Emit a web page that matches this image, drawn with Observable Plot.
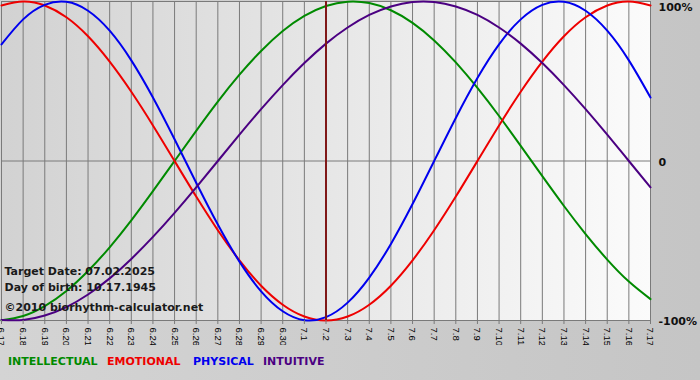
<!DOCTYPE html>
<html><head><meta charset="utf-8">
<script src="https://cdn.jsdelivr.net/npm/d3@7"></script>
<script src="https://cdn.jsdelivr.net/npm/@observablehq/plot@0.6"></script>
<style>
html,body{margin:0;padding:0;}
body{width:700px;height:380px;overflow:hidden;background:linear-gradient(to right,#d4d4d4,#c5c5c5);position:relative;font-family:"DejaVu Sans",Verdana,sans-serif;}
#chart{position:absolute;left:0;top:0;}
#legend{position:absolute;left:0;top:355px;width:700px;height:16px;font-weight:bold;font-size:11px;white-space:nowrap;}
#legend span{position:absolute;top:0;}
</style></head><body>
<div id="chart"></div>
<div id="legend"></div>
<script>
const dayLabels = ["6.17","6.18","6.19","6.20","6.21","6.22","6.23","6.24","6.25","6.26","6.27","6.28","6.29","6.30",
  "7.1","7.2","7.3","7.4","7.5","7.6","7.7","7.8","7.9","7.10","7.11","7.12","7.13","7.14","7.15","7.16","7.17"];
const intellectual = [-0.999,-0.972,-0.910,-0.815,-0.690,-0.541,-0.372,-0.189,0.000,0.189,0.372,0.541,0.690,0.815,0.910,0.972,0.999,0.990,0.945,0.866,0.756,0.618,0.458,0.282,0.095,-0.095,-0.282,-0.458,-0.618,-0.756,-0.866];
const emotional = [0.975,1.000,0.975,0.901,0.782,0.623,0.434,0.223,0.000,-0.223,-0.434,-0.623,-0.782,-0.901,-0.975,-1.000,-0.975,-0.901,-0.782,-0.623,-0.434,-0.223,0.000,0.223,0.434,0.623,0.782,0.901,0.975,1.000,0.975];
const physical = [0.731,0.888,0.979,0.998,0.942,0.817,0.631,0.398,0.136,-0.136,-0.398,-0.631,-0.817,-0.942,-0.998,-0.979,-0.888,-0.731,-0.520,-0.270,0.000,0.270,0.520,0.731,0.888,0.979,0.998,0.942,0.817,0.631,0.398];
const intuitive = [-0.997,-0.997,-0.969,-0.916,-0.837,-0.736,-0.614,-0.476,-0.325,-0.165,0.000,0.165,0.325,0.476,0.614,0.736,0.837,0.916,0.969,0.997,0.997,0.969,0.916,0.837,0.736,0.614,0.476,0.325,0.165,0.000,-0.165];
const seriesNames = ["INTELLECTUAL","EMOTIONAL","PHYSICAL","INTUITIVE"];
const seriesColors = ["#008a00","#ee0000","#0000ee","#4b0082"];
const targetLabel = "7.2";
const yTickValues = [1, 0, -1];
const yTickLabels = ["100%", "0", "-100%"];
const infoLines = ["Target Date: 07.02.2025", "Day of birth: 10.17.1945", "©2010 biorhythm-calculator.net"];

const seriesValues = [intellectual, emotional, physical, intuitive];
const rows = [];
seriesNames.forEach((name, s) => seriesValues[s].forEach((v, i) => rows.push({i, v, series: name})));
const dayIndex = dayLabels.map((_, i) => i);
const targetIndex = dayLabels.indexOf(targetLabel);

const H = 345;
const infoDy = [-49, -33, -13];
const yLabelDy = [6, 1, 1];

const defs = () => {
  const d = d3.create("svg:defs");
  const g = d.append("linearGradient").attr("id", "bg").attr("x1", 0).attr("x2", 1).attr("y1", 0).attr("y2", 0);
  g.append("stop").attr("offset", "0%").attr("stop-color", "#d2d2d2");
  g.append("stop").attr("offset", "100%").attr("stop-color", "#fbfbfb");
  return d.node();
};

const chart = Plot.plot({
  width: 700,
  height: H,
  marginLeft: 1,
  marginRight: 50,
  marginTop: 1,
  marginBottom: H - 320,
  style: {background: "transparent", fontFamily: "'DejaVu Sans', Verdana, sans-serif"},
  x: {domain: [0, dayLabels.length - 1]},
  y: {domain: [-1, 1]},
  color: {domain: seriesNames, range: seriesColors},
  marks: [
    defs,
    Plot.frame({fill: "url(#bg)"}),
    Plot.ruleX(dayIndex, {x: d => d, stroke: "#7a7a7a", strokeWidth: 1, strokeOpacity: 1}),
    Plot.ruleY([0], {stroke: "#7a7a7a", strokeOpacity: 1}),
    Plot.frame({stroke: "#7a7a7a", strokeOpacity: 1}),
    Plot.line(rows, {x: "i", y: "v", z: "series", stroke: "series", strokeWidth: 2, curve: "natural"}),
    Plot.ruleX([targetIndex], {x: d => d, stroke: "#801818", strokeWidth: 2, y1: -1, y2: 1}),
    ...infoLines.map((t, k) => Plot.text([t], {text: d => d, frameAnchor: "bottom-left", textAnchor: "start", lineAnchor: "middle", dx: 3, dy: infoDy[k], fontWeight: "bold", fontSize: 11, fill: "#1a1a1a"})),
    Plot.axisX(dayIndex, {tickFormat: i => dayLabels[i], tickRotate: 90, tickSize: 4, tickPadding: 3, fontSize: 9.5, fontFamily: "'Liberation Sans', Arial, sans-serif", stroke: "#7a7a7a", fill: "#000", label: null}),
    ...yTickValues.map((v, k) => Plot.axisY([v], {anchor: "right", tickSize: 0, tickPadding: 8, dy: yLabelDy[k], tickFormat: () => yTickLabels[k], fontWeight: "bold", fontSize: 11, fill: "#111", label: null}))
  ]
});
document.getElementById("chart").appendChild(chart);

const legendLeft = [8, 107, 193, 263];
const legend = document.getElementById("legend");
seriesNames.forEach((n, k) => {
  const s = document.createElement("span");
  s.textContent = n;
  s.style.left = legendLeft[k] + "px";
  s.style.color = seriesColors[k];
  legend.appendChild(s);
});
</script>
</body></html>
